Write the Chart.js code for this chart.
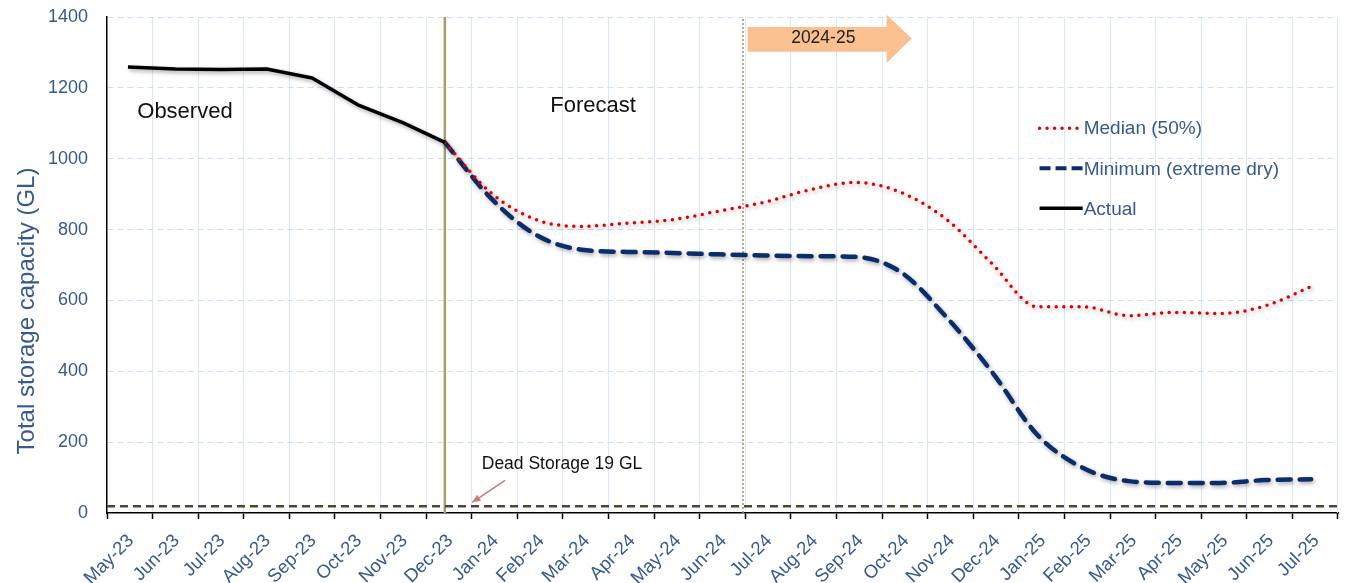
<!DOCTYPE html>
<html>
<head>
<meta charset="utf-8">
<script src="https://cdn.jsdelivr.net/npm/chart.js"></script>
<style>
html,body{margin:0;padding:0;background:#fff;}
#c{display:block;}
</style>
</head>
<body>
<canvas id="c" width="1347" height="583"></canvas>
<script>
// ---- data ----
const monthLabels = ['May-23','Jun-23','Jul-23','Aug-23','Sep-23','Oct-23','Nov-23','Dec-23',
  'Jan-24','Feb-24','Mar-24','Apr-24','May-24','Jun-24','Jul-24','Aug-24','Sep-24','Oct-24','Nov-24','Dec-24',
  'Jan-25','Feb-25','Mar-25','Apr-25','May-25','Jun-25','Jul-25'];
const yTickValues = [0,200,400,600,800,1000,1200,1400];
const xAxisEnd = 27; // Aug-25 (unlabelled end of the date axis)

// positions in months since May-23 (observation / forecast dates)
const actualMonths = [0.46,1.5,2.5,3.5,4.5,5.5,6.5,7.41];
const actualValues = [1259,1253,1252,1253,1228,1152,1101,1046];

const forecastMonths = [7.41,8.41,9.41,10.41,11.41,12.41,13.41,14.41,15.41,16.41,
  17.41,18.41,19.41,20.41,21.41,22.41,23.41,24.41,25.41,26.41];
const medianValues  = [1046,905,828,809,818,828,852,877,912,933,905,829,704,582,582,557,566,563,585,639];
const minimumValues = [1046,890,785,743,737,734,730,727,725,723,680,553,398,220,127,90,85,85,93,95];

const deadStorage = 19;
const forecastStart = 7.41;
const financialYearStart = 13.95;

const FONT = "'Liberation Sans', Arial, sans-serif";
const BLUE_TEXT = '#375a8b';
const MEDIAN_COLOR = '#e00000';
const MIN_COLOR = '#0c2d6b';
const VGRID = '#dce7f5';

const pts = (xs, ys) => xs.map((x, i) => ({x, y: ys[i]}));

const shadowPlugin = {
  id: 'shadow',
  beforeDatasetDraw(chart, args) {
    const ds = chart.data.datasets[args.index];
    chart.ctx.save();
    if (ds.shadow) {
      chart.ctx.shadowColor = 'rgba(0,0,0,0.35)';
      chart.ctx.shadowBlur = 4;
      chart.ctx.shadowOffsetX = 1.5;
      chart.ctx.shadowOffsetY = 2;
    }
  },
  afterDatasetDraw(chart) { chart.ctx.restore(); }
};

// end-of-axis grid line and tick mark (Aug-25, unlabelled)
const axisEndPlugin = {
  id: 'axisEnd',
  beforeDatasetsDraw(chart) {
    const ctx = chart.ctx, xs = chart.scales.x, a = chart.chartArea;
    const px = Math.round(xs.getPixelForValue(xAxisEnd)) - 0.5;
    ctx.save();
    ctx.strokeStyle = VGRID; ctx.lineWidth = 1;
    ctx.beginPath(); ctx.moveTo(px, a.top); ctx.lineTo(px, a.bottom); ctx.stroke();
    ctx.restore();
  },
  afterDraw(chart) {
    const ctx = chart.ctx, xs = chart.scales.x, a = chart.chartArea;
    const px = Math.round(xs.getPixelForValue(xAxisEnd)) - 0.5;
    ctx.save();
    ctx.strokeStyle = '#000'; ctx.lineWidth = 1.5;
    ctx.beginPath(); ctx.moveTo(px, a.bottom); ctx.lineTo(px, a.bottom + 6); ctx.stroke();
    ctx.restore();
  }
};

const annotPlugin = {
  id: 'annot',
  afterDraw(chart) {
    const ctx = chart.ctx;
    const xs = chart.scales.x, ys = chart.scales.y;
    const X = v => xs.getPixelForValue(v);
    const Y = v => ys.getPixelForValue(v);
    ctx.save();

    // FY arrow
    const ax0 = X(14.05), axh = X(17.1), axt = X(17.65);
    const yb1 = Y(1372), yb2 = Y(1302), yh1 = Y(1406), yh2 = Y(1270), ymid = Y(1339);
    ctx.fillStyle = '#fac08f';
    ctx.beginPath();
    ctx.moveTo(ax0, yb1); ctx.lineTo(axh, yb1); ctx.lineTo(axh, yh1); ctx.lineTo(axt, ymid);
    ctx.lineTo(axh, yh2); ctx.lineTo(axh, yb2); ctx.lineTo(ax0, yb2); ctx.closePath();
    ctx.fill();
    ctx.fillStyle = '#222';
    ctx.font = '17.5px ' + FONT;
    ctx.textAlign = 'center'; ctx.textBaseline = 'middle';
    ctx.fillText('2024-25', X(15.71), ymid);

    // region labels
    ctx.fillStyle = '#111';
    ctx.font = '22px ' + FONT;
    ctx.fillText('Observed', X(1.71), Y(1132));
    ctx.fillText('Forecast', X(10.66), Y(1150));

    // dead storage label + arrow
    ctx.font = '17.5px ' + FONT;
    ctx.fillStyle = '#111';
    ctx.fillText('Dead Storage 19 GL', X(9.98), Y(137));
    const sx = X(8.73), sy = Y(92), ex = X(8.01), ey = Y(30);
    ctx.strokeStyle = '#c47c7c'; ctx.fillStyle = '#c47c7c'; ctx.lineWidth = 1.5;
    ctx.beginPath(); ctx.moveTo(sx, sy); ctx.lineTo(ex, ey); ctx.stroke();
    const ang = Math.atan2(ey - sy, ex - sx);
    ctx.beginPath();
    ctx.moveTo(ex, ey);
    ctx.lineTo(ex - 9 * Math.cos(ang - 0.4), ey - 9 * Math.sin(ang - 0.4));
    ctx.lineTo(ex - 9 * Math.cos(ang + 0.4), ey - 9 * Math.sin(ang + 0.4));
    ctx.closePath(); ctx.fill();

    // legend
    const items = [
      {label: 'Median (50%)', color: MEDIAN_COLOR, width: 3.5, dash: [0, 7.5], cap: 'round'},
      {label: 'Minimum (extreme dry)', color: MIN_COLOR, width: 4, dash: [11, 5], cap: 'butt'},
      {label: 'Actual', color: '#000', width: 3.5, dash: [], cap: 'butt'}
    ];
    const lx0 = X(20.41), lx1 = X(21.4);
    const ly = [Y(1086), Y(973), Y(860)];
    items.forEach((it, i) => {
      ctx.save();
      ctx.strokeStyle = it.color; ctx.lineWidth = it.width; ctx.setLineDash(it.dash); ctx.lineCap = it.cap;
      ctx.beginPath(); ctx.moveTo(lx0 + 2, ly[i]); ctx.lineTo(lx1, ly[i]); ctx.stroke();
      ctx.restore();
      ctx.fillStyle = BLUE_TEXT;
      ctx.font = '19px ' + FONT;
      ctx.textAlign = 'left'; ctx.textBaseline = 'middle';
      ctx.fillText(it.label, lx1 + 1, ly[i] + 1);
    });

    // y axis title
    ctx.save();
    ctx.translate(34, 311);
    ctx.rotate(-Math.PI / 2);
    ctx.fillStyle = BLUE_TEXT;
    ctx.font = '24px ' + FONT;
    ctx.textAlign = 'center'; ctx.textBaseline = 'alphabetic';
    ctx.fillText('Total storage capacity (GL)', 0, 0);
    ctx.restore();

    ctx.restore();
  }
};

new Chart(document.getElementById('c'), {
  type: 'line',
  data: {
    datasets: [
      {label: 'Actual', data: pts(actualMonths, actualValues), borderColor: '#000', borderWidth: 3.5,
       tension: 0, pointRadius: 0, fill: false, order: 0, shadow: true, borderJoinStyle: 'round'},
      {label: 'Median (50%)', data: pts(forecastMonths, medianValues), borderColor: MEDIAN_COLOR, borderWidth: 3.5,
       borderDash: [0, 7.6], borderCapStyle: 'round', cubicInterpolationMode: 'monotone', pointRadius: 0, fill: false, order: 1, shadow: true},
      {label: 'Minimum (extreme dry)', data: pts(forecastMonths, minimumValues), borderColor: MIN_COLOR, borderWidth: 4.5,
       borderDash: [13, 9], borderCapStyle: 'round', cubicInterpolationMode: 'monotone', pointRadius: 0, fill: false, order: 2, shadow: true},
      {label: 'Dead storage', data: [{x: 0, y: deadStorage}, {x: xAxisEnd, y: deadStorage}], borderColor: '#4d4830',
       borderWidth: 2.5, borderDash: [8, 5], pointRadius: 0, fill: false, order: 5},
      {label: 'Forecast start', data: [{x: forecastStart, y: 0}, {x: forecastStart, y: 1400}], borderColor: '#a89c6c',
       borderWidth: 2.5, pointRadius: 0, fill: false, order: 6},
      {label: 'FY start', data: [{x: financialYearStart, y: 0}, {x: financialYearStart, y: 1400}], borderColor: '#9d9468',
       borderWidth: 1.5, borderDash: [2, 2], pointRadius: 0, fill: false, order: 7}
    ]
  },
  options: {
    responsive: false,
    animation: false,
    devicePixelRatio: 1,
    layout: {padding: {left: 0, right: 9, top: 17, bottom: 0}},
    plugins: {legend: {display: false}, tooltip: {enabled: false}},
    events: [],
    scales: {
      x: {
        type: 'linear', min: 0, max: xAxisEnd,
        afterFit: s => { s.height = 70; },
        afterBuildTicks: s => { s.ticks = monthLabels.map((_, i) => ({value: i})); },
        ticks: {
          stepSize: 1, autoSkip: false, minRotation: 45, maxRotation: 45,
          callback: v => monthLabels[v] !== undefined ? monthLabels[v] : '',
          color: BLUE_TEXT, font: {family: FONT, size: 18.5}, labelOffset: 24, padding: 11
        },
        grid: {
          color: c => (c.tick && c.tick.value === 0) ? 'rgba(0,0,0,0)' : VGRID,
          lineWidth: 1, tickColor: '#000', tickLength: 6, tickWidth: 1.5
        },
        border: {display: true, color: '#000', width: 1.5}
      },
      y: {
        min: 0, max: 1400,
        afterFit: s => { s.width = 107; },
        afterBuildTicks: s => { s.ticks = yTickValues.map(v => ({value: v})); },
        ticks: {stepSize: 200, color: BLUE_TEXT, font: {family: FONT, size: 18}, padding: 0,
          callback: v => String(v)},
        grid: {
          color: c => (c.tick && c.tick.value === 0) ? 'rgba(0,0,0,0)' : '#cfdff2',
          lineWidth: 1, drawTicks: true, tickLength: 19, tickColor: 'rgba(0,0,0,0)'
        },
        border: {display: true, color: '#000', width: 1.5, dash: [6, 4]}
      }
    }
  },
  plugins: [shadowPlugin, axisEndPlugin, annotPlugin]
});
</script>
</body>
</html>
